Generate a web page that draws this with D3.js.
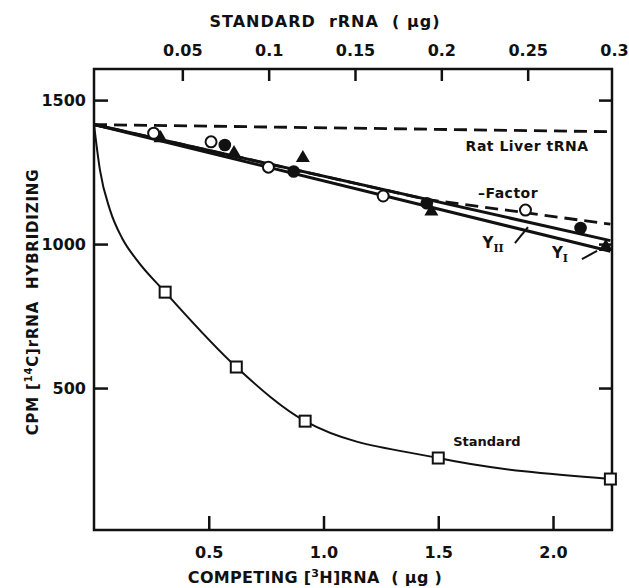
<!DOCTYPE html>
<html>
<head>
<meta charset="utf-8">
<script src="https://cdn.jsdelivr.net/npm/d3@7"></script>
<style>
  body { margin: 0; background: #fff; }
  text { font-family: "DejaVu Sans", sans-serif; font-weight: bold; fill: #111; }
</style>
</head>
<body>
<div id="chart"></div>
<script>
// values
var bottomTicks = [0.5, 1.0, 1.5, 2.0];
var topTicks = [0.05, 0.1, 0.15, 0.2, 0.25, 0.3];
var yTicks = [500, 1000, 1500];

var openCircles = [[0.26, 1385], [0.51, 1355], [0.76, 1267], [1.26, 1167], [1.88, 1118]];
var filledCircles = [[0.57, 1344], [0.87, 1252], [1.45, 1142], [2.12, 1056]];
var triangles = [[0.29, 1368], [0.61, 1316], [0.91, 1299], [1.47, 1113], [2.23, 990]];
var squares = [[0.31, 833], [0.62, 573], [0.92, 385], [1.50, 257], [2.25, 184]];

// drawn lines, as traced on the figure
var ratLiverLine = [[0, 1415], [2.257, 1390]];
var factorLine = [[0, 1415], [1.45, 1155], [2.25, 1069]];
var y2Line = [[0, 1415], [2.25, 1012]];
var y1Line = [[0, 1415], [2.25, 975]];
var standardCurve = [[0, 1415], [0.026, 1257], [0.07, 1118], [0.122, 1021], [0.187, 944], [0.31, 833],
                     [0.62, 573], [0.92, 385], [1.50, 257], [2.25, 184]];

var width = 629, height = 588;
var plotL = 94, plotR = 612, plotT = 69, plotB = 530;

var svg = d3.select("#chart").append("svg").attr("width", width).attr("height", height);

var x = d3.scaleLinear().domain([0, 2.257]).range([plotL, plotR]);
var xTop = d3.scaleLinear().domain([0, 0.3]).range([96, 614]);
var y = d3.scaleLinear().domain([7, 1608]).range([plotB, plotT]);

// axes, ticks pointing inward
var gx = svg.append("g").attr("transform", "translate(0," + plotB + ")")
  .call(d3.axisBottom(x).tickValues(bottomTicks).tickSize(-14).tickPadding(17).tickFormat(d3.format(".1f")));
var gt = svg.append("g").attr("transform", "translate(0," + plotT + ")")
  .call(d3.axisTop(xTop).tickValues(topTicks).tickSize(-12).tickPadding(13).tickFormat(d3.format("")));
var gy = svg.append("g").attr("transform", "translate(" + plotL + ",0)")
  .call(d3.axisLeft(y).tickValues(yTicks).tickSize(-14).tickPadding(8).tickFormat(d3.format("d")));
var gr = svg.append("g").attr("transform", "translate(" + plotR + ",0)")
  .call(d3.axisRight(y).tickValues(yTicks).tickSize(-13).tickFormat(""));

[gx, gt, gy, gr].forEach(function(g) {
  g.select(".domain").remove();
  g.selectAll(".tick line").attr("stroke", "#111").attr("stroke-width", 2.5);
  g.selectAll(".tick text").attr("font-size", 16).attr("fill", "#111");
});
gt.selectAll(".tick").filter(function(d) { return d == 0.3; }).select("line").remove();

svg.append("rect").attr("x", plotL).attr("y", plotT)
  .attr("width", plotR - plotL).attr("height", plotB - plotT)
  .attr("fill", "none").attr("stroke", "#111").attr("stroke-width", 2.5);

// axis titles
svg.append("text").attr("x", 325).attr("y", 27).attr("text-anchor", "middle")
  .attr("font-size", 16).attr("letter-spacing", 1).attr("xml:space", "preserve")
  .text("STANDARD  rRNA  ( \u03bcg)");

var xt = svg.append("text").attr("x", 315).attr("y", 583).attr("text-anchor", "middle")
  .attr("font-size", 16).attr("letter-spacing", 0.3).attr("xml:space", "preserve");
xt.append("tspan").text("COMPETING [");
xt.append("tspan").attr("font-size", 11).attr("dy", -6).text("3");
xt.append("tspan").attr("dy", 6).text("H]RNA  ( \u03bcg )");

var yt = svg.append("text").attr("transform", "translate(38,302) rotate(-90)")
  .attr("text-anchor", "middle").attr("font-size", 15).attr("letter-spacing", 0.8)
  .attr("xml:space", "preserve");
yt.append("tspan").text("CPM [");
yt.append("tspan").attr("font-size", 10).attr("dy", -6).text("14");
yt.append("tspan").attr("dy", 6).text("C]rRNA  HYBRIDIZING");

// lines
var line = d3.line().x(function(d) { return x(d[0]); }).y(function(d) { return y(d[1]); });

svg.append("path").datum(ratLiverLine).attr("d", line)
  .attr("fill", "none").attr("stroke", "#111").attr("stroke-width", 2.8).attr("stroke-dasharray", "13,7");
svg.append("path").datum(factorLine).attr("d", line)
  .attr("fill", "none").attr("stroke", "#111").attr("stroke-width", 2.8).attr("stroke-dasharray", "13,7");
svg.append("path").datum(y2Line).attr("d", line)
  .attr("fill", "none").attr("stroke", "#111").attr("stroke-width", 3);
svg.append("path").datum(y1Line).attr("d", line)
  .attr("fill", "none").attr("stroke", "#111").attr("stroke-width", 3);
svg.append("path").datum(standardCurve).attr("d", line.curve(d3.curveMonotoneX))
  .attr("fill", "none").attr("stroke", "#111").attr("stroke-width", 2);

// markers
svg.selectAll(".sq").data(squares).enter().append("rect").attr("class", "sq")
  .attr("x", function(d) { return x(d[0]) - 5.5; }).attr("y", function(d) { return y(d[1]) - 5.5; })
  .attr("width", 11).attr("height", 11)
  .attr("fill", "#fff").attr("stroke", "#111").attr("stroke-width", 2);

svg.selectAll(".tri").data(triangles).enter().append("path").attr("class", "tri")
  .attr("transform", function(d) { return "translate(" + x(d[0]) + "," + y(d[1]) + ")"; })
  .attr("d", d3.symbol().type(d3.symbolTriangle).size(85)).attr("fill", "#111");

svg.selectAll(".fc").data(filledCircles).enter().append("circle").attr("class", "fc")
  .attr("cx", function(d) { return x(d[0]); }).attr("cy", function(d) { return y(d[1]); })
  .attr("r", 6.3).attr("fill", "#111");

svg.selectAll(".oc").data(openCircles).enter().append("circle").attr("class", "oc")
  .attr("cx", function(d) { return x(d[0]); }).attr("cy", function(d) { return y(d[1]); })
  .attr("r", 5.5).attr("fill", "#fff").attr("stroke", "#111").attr("stroke-width", 2);

// labels on the curves
svg.append("text").attr("x", x(1.887)).attr("y", y(1340)).attr("dy", "0.35em")
  .attr("text-anchor", "middle").attr("font-size", 14).attr("letter-spacing", 0.5).text("Rat Liver tRNA");
svg.append("text").attr("x", x(1.804)).attr("y", y(1177)).attr("dy", "0.35em")
  .attr("text-anchor", "middle").attr("font-size", 14).attr("letter-spacing", 0.5).text("\u2013Factor");
svg.append("text").attr("x", x(1.712)).attr("y", y(316)).attr("dy", "0.35em")
  .attr("text-anchor", "middle").attr("font-size", 13).text("Standard");

var leaders = [[[1.834, 1003], [1.891, 1059]], [[2.126, 948], [2.192, 976]]];
svg.selectAll(".ld").data(leaders).enter().append("path").attr("class", "ld")
  .attr("d", line.curve(d3.curveLinear)).attr("fill", "none").attr("stroke", "#111").attr("stroke-width", 2);

var yii = svg.append("text").attr("x", x(1.739)).attr("y", y(986)).attr("text-anchor", "middle").attr("font-size", 15);
yii.append("tspan").text("Y");
yii.append("tspan").attr("dy", 4).attr("font-size", 11).attr("font-family", "DejaVu Serif").text("II");
var yi = svg.append("text").attr("x", x(2.03)).attr("y", y(951)).attr("text-anchor", "middle").attr("font-size", 15);
yi.append("tspan").text("Y");
yi.append("tspan").attr("dy", 4).attr("font-size", 11).attr("font-family", "DejaVu Serif").text("I");
</script>
</body>
</html>
